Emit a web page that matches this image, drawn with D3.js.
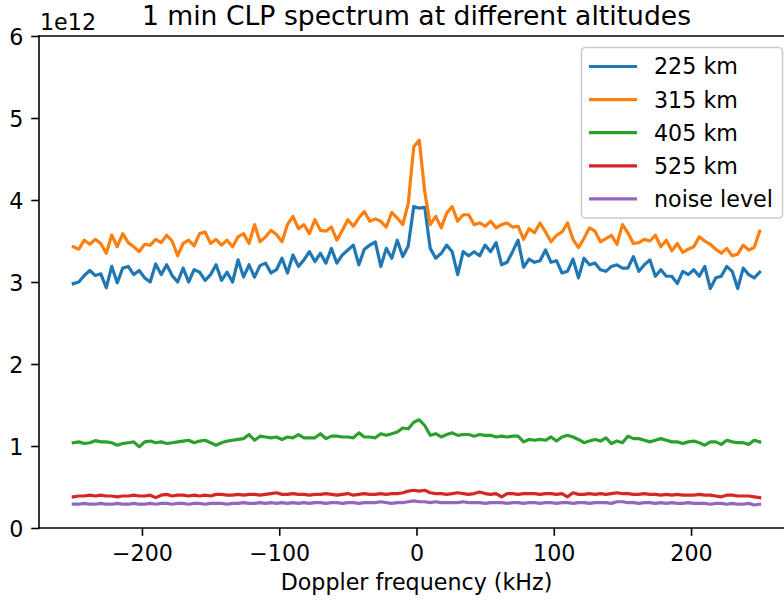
<!DOCTYPE html>
<html><head><meta charset="utf-8">
<script src="https://cdn.jsdelivr.net/npm/d3@7"></script>
<style>
html,body{margin:0;padding:0;background:#fff;}
svg{display:block;font-family:"DejaVu Sans",sans-serif;}
</style></head>
<body>
<svg id="chart" width="784" height="601"></svg>
<script>
// Doppler frequency (kHz)
const freq = [-250,-246,-242,-238,-234,-230,-226,-222,-218,-214,
-210,-206,-202,-198,-194,-190,-186,-182,-178,-174,
-170,-166,-162,-158,-154,-150,-146,-142,-138,-134,
-130,-126,-122,-118,-114,-110,-106,-102,-98,-94,
-90,-86,-82,-78,-74,-70,-66,-62,-58,-54,
-50,-46,-42,-38,-34,-30,-26,-22,-18,-14,
-10,-6,-2,2,6,10,14,18,22,26,
30,34,38,42,46,50,54,58,62,66,
70,74,78,82,86,90,94,98,102,106,
110,114,118,122,126,130,134,138,142,146,
150,154,158,162,166,170,174,178,182,186,
190,194,198,202,206,210,214,218,222,226,
230,234,238,242,246,250];

// power (x 1e12)
const km225 = [2.98,3.00,3.08,3.14,3.08,3.10,2.93,3.19,2.99,3.17,
3.19,3.09,3.14,3.05,3.00,3.22,3.09,3.21,3.08,3.00,
3.17,3.00,3.15,3.12,3.02,3.09,3.21,3.02,3.12,3.00,
3.27,3.06,3.21,3.06,3.20,3.23,3.11,3.15,3.29,3.11,
3.33,3.19,3.27,3.37,3.25,3.35,3.23,3.41,3.23,3.33,
3.39,3.45,3.21,3.40,3.45,3.49,3.19,3.41,3.29,3.51,
3.31,3.44,3.92,3.90,3.91,3.41,3.29,3.35,3.45,3.37,
3.09,3.37,3.32,3.37,3.32,3.45,3.37,3.48,3.21,3.24,
3.37,3.51,3.18,3.28,3.24,3.26,3.39,3.24,3.26,3.11,
3.13,3.28,3.05,3.29,3.21,3.23,3.15,3.13,3.19,3.21,
3.17,3.17,3.31,3.13,3.21,3.27,3.07,3.15,3.07,3.07,
2.98,3.13,3.09,3.15,3.07,3.19,2.92,3.05,3.07,3.19,
3.13,2.92,3.17,3.09,3.05,3.12];

const km315 = [3.43,3.40,3.51,3.46,3.52,3.47,3.35,3.57,3.43,3.59,
3.48,3.43,3.37,3.46,3.45,3.52,3.48,3.57,3.50,3.32,
3.47,3.51,3.44,3.59,3.61,3.47,3.52,3.45,3.51,3.43,
3.55,3.59,3.47,3.70,3.49,3.55,3.63,3.58,3.49,3.70,
3.80,3.65,3.70,3.59,3.76,3.63,3.62,3.67,3.51,3.63,
3.76,3.68,3.78,3.86,3.74,3.77,3.74,3.67,3.85,3.78,
3.70,3.96,4.65,4.73,4.10,3.70,3.80,3.66,3.84,3.92,
3.74,3.82,3.82,3.70,3.72,3.68,3.74,3.66,3.70,3.72,
3.67,3.68,3.52,3.65,3.60,3.72,3.61,3.49,3.57,3.61,
3.72,3.52,3.42,3.53,3.66,3.62,3.49,3.53,3.57,3.46,
3.70,3.60,3.47,3.48,3.52,3.50,3.57,3.43,3.51,3.38,
3.47,3.36,3.40,3.43,3.55,3.50,3.46,3.40,3.35,3.41,
3.32,3.34,3.45,3.39,3.42,3.62];

const km405 = [1.04,1.05,1.03,1.04,1.065,1.05,1.05,1.04,1.01,1.03,
1.04,1.05,0.99,1.05,1.06,1.04,1.05,1.03,1.04,1.05,
1.06,1.07,1.04,1.06,1.07,1.04,1.01,1.04,1.06,1.07,
1.08,1.09,1.14,1.07,1.12,1.11,1.10,1.11,1.08,1.11,
1.10,1.14,1.10,1.10,1.10,1.15,1.09,1.12,1.12,1.11,
1.11,1.10,1.16,1.11,1.11,1.10,1.15,1.13,1.15,1.17,
1.22,1.21,1.29,1.32,1.25,1.13,1.15,1.11,1.14,1.16,
1.13,1.14,1.14,1.12,1.14,1.13,1.13,1.11,1.12,1.11,
1.12,1.12,1.05,1.08,1.07,1.08,1.07,1.11,1.06,1.11,
1.13,1.11,1.08,1.04,1.06,1.08,1.06,1.10,1.03,1.06,
1.04,1.12,1.09,1.09,1.07,1.05,1.07,1.09,1.07,1.05,
1.05,1.03,1.05,1.06,1.04,1.01,1.05,1.05,1.02,1.07,
1.05,1.04,1.04,1.02,1.07,1.05];

const km525 = [0.38,0.39,0.39,0.40,0.39,0.40,0.39,0.39,0.38,0.39,
0.39,0.40,0.39,0.39,0.40,0.37,0.40,0.41,0.39,0.40,
0.40,0.39,0.40,0.39,0.40,0.39,0.41,0.41,0.40,0.40,
0.41,0.40,0.41,0.41,0.40,0.41,0.42,0.43,0.41,0.41,
0.42,0.41,0.41,0.40,0.41,0.41,0.42,0.41,0.40,0.41,
0.42,0.40,0.41,0.42,0.41,0.41,0.42,0.41,0.42,0.42,
0.43,0.45,0.46,0.45,0.46,0.43,0.42,0.42,0.41,0.42,
0.43,0.42,0.41,0.42,0.44,0.42,0.41,0.42,0.38,0.42,
0.42,0.41,0.42,0.42,0.42,0.41,0.42,0.42,0.41,0.42,
0.38,0.43,0.41,0.41,0.42,0.41,0.42,0.41,0.42,0.43,
0.42,0.42,0.41,0.41,0.42,0.41,0.41,0.40,0.41,0.40,
0.41,0.40,0.40,0.40,0.41,0.40,0.40,0.39,0.38,0.40,
0.40,0.39,0.39,0.39,0.38,0.37];

const noiseLevel = [0.29,0.29,0.30,0.29,0.29,0.30,0.29,0.29,0.30,0.29,
0.29,0.30,0.29,0.29,0.30,0.29,0.30,0.30,0.29,0.30,
0.30,0.29,0.30,0.30,0.29,0.30,0.30,0.30,0.29,0.30,
0.30,0.31,0.30,0.30,0.31,0.30,0.31,0.30,0.31,0.30,
0.31,0.30,0.31,0.30,0.31,0.31,0.30,0.31,0.31,0.30,
0.31,0.31,0.30,0.31,0.31,0.31,0.32,0.31,0.30,0.31,
0.31,0.32,0.33,0.32,0.32,0.31,0.32,0.31,0.31,0.31,
0.31,0.32,0.31,0.31,0.31,0.30,0.31,0.31,0.31,0.30,
0.31,0.31,0.30,0.31,0.31,0.30,0.31,0.31,0.30,0.31,
0.31,0.30,0.31,0.31,0.30,0.31,0.31,0.31,0.30,0.32,
0.32,0.31,0.31,0.30,0.31,0.31,0.30,0.31,0.30,0.31,
0.30,0.30,0.31,0.30,0.30,0.30,0.29,0.30,0.30,0.29,
0.30,0.29,0.29,0.30,0.28,0.29];

const seriesNames = ["225 km","315 km","405 km","525 km","noise level"];
const seriesColors = ["#1f77b4","#ff7f0e","#2ca02c","#d62728","#9467bd"];
const xTickValues = [-200,-100,0,100,200];
const xTickLabels = ["\u2212200","\u2212100","0","100","200"];
const yTickValues = [0,1,2,3,4,5,6];
const yTickLabels = ["0","1","2","3","4","5","6"];

const series = [km225, km315, km405, km525, noiseLevel];

const svg = d3.select("#chart");
const L = 39, T = 36, R = 794, B = 528;
const FS = 22.2;

const x = d3.scaleLinear().domain([-275, 275]).range([L, R]);
const y = d3.scaleLinear().domain([0, 6]).range([B, T]);

svg.append("defs").append("clipPath").attr("id","clip")
  .append("rect").attr("x",L).attr("y",T).attr("width",R-L).attr("height",B-T);

const line = d3.line().x((d,i)=>x(freq[i])).y(d=>y(d));
const g = svg.append("g").attr("clip-path","url(#clip)");
series.forEach((s,k)=>{
  g.append("path").datum(s).attr("d",line)
    .attr("fill","none").attr("stroke",seriesColors[k])
    .attr("stroke-width",3.2).attr("stroke-linejoin","round").attr("stroke-linecap","square");
});

// axes
const xAxis = d3.axisBottom(x).tickValues(xTickValues)
  .tickFormat((d,i)=>xTickLabels[i]).tickSize(7.8).tickSizeOuter(0).tickPadding(9.5);
const gx = svg.append("g").attr("transform",`translate(0,${B})`).call(xAxis);
const yAxis = d3.axisLeft(y).tickValues(yTickValues)
  .tickFormat((d,i)=>yTickLabels[i]).tickSize(7.8).tickSizeOuter(0).tickPadding(7.8);
const gy = svg.append("g").attr("transform",`translate(${L},0)`).call(yAxis);
[gx,gy].forEach(a=>{
  a.select(".domain").remove();
  a.selectAll(".tick line").attr("stroke","#000").attr("stroke-width",1.6);
  a.selectAll(".tick text").attr("fill","#000").style("font-size",FS+"px")
   .style("font-family","'DejaVu Sans'");
});
gy.selectAll(".tick text").attr("dy","0.36em");

// spines
const sp = svg.append("g").attr("stroke","#000").attr("stroke-width",1.6).attr("stroke-linecap","square");
sp.append("line").attr("x1",L).attr("x2",L).attr("y1",T).attr("y2",B);
sp.append("line").attr("x1",L).attr("x2",R).attr("y1",B).attr("y2",B);
sp.append("line").attr("x1",L).attr("x2",R).attr("y1",T).attr("y2",T);
sp.append("line").attr("x1",R).attr("x2",R).attr("y1",T).attr("y2",B);

// texts
svg.append("text").attr("x",(L+R)/2).attr("y",25).attr("text-anchor","middle")
  .style("font-size",(FS*1.2)+"px").text("1 min CLP spectrum at different altitudes");
svg.append("text").attr("x",40).attr("y",30).attr("text-anchor","start")
  .style("font-size",FS+"px").text("1e12");
svg.append("text").attr("x",(L+R)/2).attr("y",590).attr("text-anchor","middle")
  .style("font-size",FS+"px").text("Doppler frequency (kHz)");

// legend
const lg = svg.append("g");
lg.append("rect").attr("x",581.5).attr("y",47.5).attr("width",201).attr("height",170.5)
  .attr("rx",4).attr("fill","#fff").attr("fill-opacity",0.8)
  .attr("stroke","#cccccc").attr("stroke-width",1.6);
seriesNames.forEach((n,i)=>{
  const cy = 66.5 + i*33.1;
  lg.append("line").attr("x1",589).attr("x2",637).attr("y1",cy).attr("y2",cy)
    .attr("stroke",seriesColors[i]).attr("stroke-width",3.2);
  lg.append("text").attr("x",654).attr("y",cy).attr("dy","0.36em")
    .style("font-size",FS+"px").text(n);
});
</script>
</body></html>
